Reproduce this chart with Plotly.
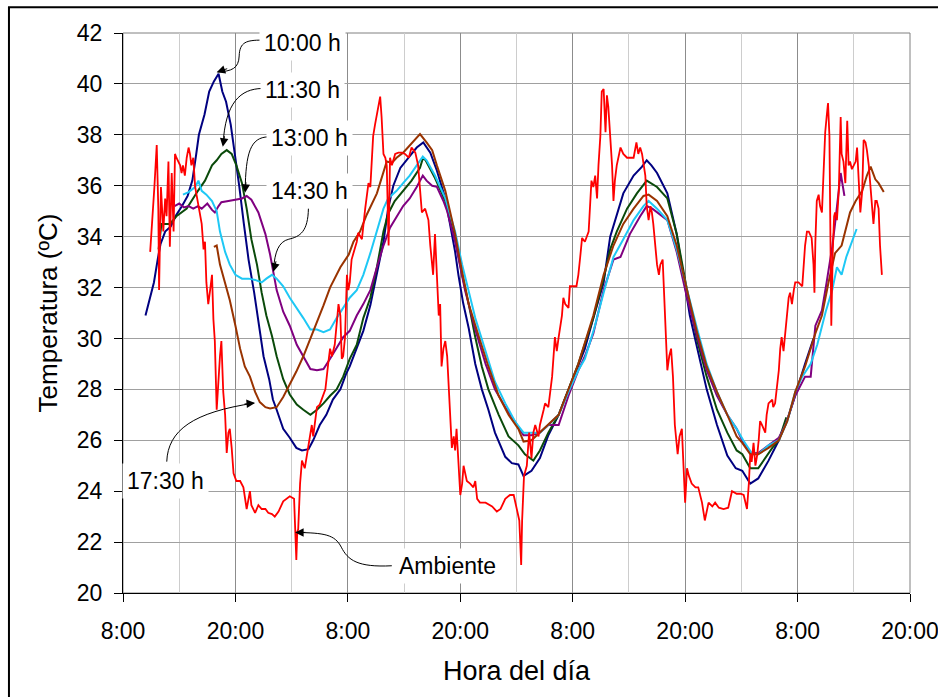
import plotly.graph_objects as go

# ---------------- data (time in hours since 8:00 of day 1) ----------------
x_tickvals = [0, 12, 24, 36, 48, 60, 72, 84]
x_ticktext = ["8:00", "20:00", "8:00", "20:00", "8:00", "20:00", "8:00", "20:00"]
x_minor = [6, 18, 30, 42, 54, 66, 78]

blue_t = [2.4, 2.8, 3.3, 3.7, 4.0, 4.5, 5.1, 5.6, 6.3, 6.9, 7.4, 7.8, 8.1, 8.7, 9.2, 9.7, 10.2, 10.6, 11.0,
          11.5, 11.9, 12.4, 12.9, 13.4, 14.0, 14.5, 15.0, 15.6, 16.0, 16.4, 17.1, 17.8, 18.5, 19.1, 19.8,
          20.3, 21.0, 21.7, 22.4, 23.2, 23.8, 24.2, 24.9, 25.65, 26.4, 27.1, 27.8, 28.3, 28.85, 29.6, 30.3,
          30.8, 31.35, 32.05, 32.8, 33.5, 34.4, 34.9, 35.45, 35.8, 36.3, 36.9, 37.6, 38.3, 39.0, 39.7, 40.8,
          41.5, 42.2, 42.75, 43.6, 44.5, 45.4, 46.5, 47.55, 48.6, 49.3, 50.2, 51.3, 52.0, 52.7, 53.4, 54.5,
          55.4, 55.9, 56.4, 57.0, 58.1, 59.1, 59.8, 60.5, 61.3, 62.3, 63.4, 64.5, 65.4, 66.1, 66.95, 67.8,
          68.9, 70.0, 71.0, 71.9, 72.8, 73.7]
blue_v = [30.9, 31.5, 32.2, 33.1, 33.7, 34.2, 34.4, 34.8, 35.2, 35.6, 36.2, 37.2, 38.0, 38.8, 39.7, 40.1, 40.4, 39.7, 39.3,
          38.4, 37.4, 36.0, 34.5, 33.1, 31.8, 30.5, 29.3, 28.4, 27.6, 27.2, 26.45, 26.1, 25.7, 25.6, 25.65,
          26.0, 26.6, 27.0, 27.6, 28.0, 28.6, 28.9, 29.6, 30.3, 31.3, 32.5, 33.8, 35.1, 36.0, 36.7, 37.0,
          37.25, 37.5, 37.7, 37.3, 36.6, 35.5, 34.5, 33.4, 32.5, 31.4, 30.4, 29.0, 28.0, 27.2, 26.3, 25.35,
          25.1, 25.05, 24.6, 24.8, 25.3, 26.2, 27.0, 28.0, 29.0, 29.6, 30.8, 32.2, 34.0, 34.9, 35.7, 36.4,
          36.75, 37.0, 36.8, 36.5, 35.7, 34.1, 32.5, 30.9, 29.6, 28.0, 26.6, 25.4, 24.9, 24.8, 24.3, 24.5,
          25.2, 26.0, 26.9, 28.0, 29.0, 30.0]

green_t = [3.8, 4.1, 5.0, 5.7, 6.8, 7.3, 8.0, 8.75, 9.5, 10.0, 10.5, 11.07, 11.6, 12.1, 12.7, 13.2, 13.7, 14.3,
           14.8, 15.3, 15.9, 16.4, 17.1, 17.8, 18.55, 19.25, 20.0, 20.7, 21.4, 22.1, 22.8, 23.5, 24.2, 24.95,
           25.65, 26.4, 27.1, 27.8, 28.3, 29.0, 29.9, 30.8, 31.7, 32.0, 32.3, 33.3, 34.4, 35.45, 36.2, 36.9,
           37.6, 38.3, 39.0, 40.1, 41.15, 42.2, 42.9, 43.8, 44.5, 45.4, 46.5, 47.55, 48.6, 50.2, 51.3, 52.0,
           52.7, 53.8, 54.85, 55.9, 57.0, 58.1, 59.1, 60.2, 61.3, 62.3, 63.4, 64.5, 65.5, 66.1, 66.95, 67.8,
           68.55, 69.3, 70.0, 70.8]
green_v = [33.5, 34.5, 34.5, 34.8, 35.1, 35.4, 35.8, 36.2, 36.8, 37.0, 37.25, 37.4, 37.25, 36.8, 36.1, 35.1, 33.9, 32.9,
           31.8, 30.9, 30.1, 29.3, 28.4, 27.8, 27.4, 27.2, 27.0, 27.2, 27.45, 27.75, 28.0, 28.5, 29.2, 29.75,
           30.8, 31.6, 32.8, 34.2, 34.9, 35.4, 35.8, 36.2, 36.7, 37.07, 37.0, 36.3, 35.4, 33.9, 32.5, 31.35,
           30.05, 28.9, 28.0, 27.0, 26.15, 25.8, 25.45, 25.2, 25.6, 26.3, 27.0, 28.0, 29.0, 30.8, 32.35, 33.5,
           34.2, 35.1, 35.7, 36.2, 35.95, 35.5, 34.1, 31.9, 29.9, 28.5, 27.2, 26.3, 25.6, 25.45, 24.9, 24.9,
           25.3, 25.7, 26.0, 26.9]

purple_t = [5.5, 6.0, 6.5, 7.0, 7.5, 8.0, 8.4, 9.0, 9.5, 9.8, 10.2, 10.5, 11.25, 12.0, 12.7, 13.2, 13.7, 14.45,
            15.2, 15.7, 16.4, 17.1, 17.8, 18.55, 19.25, 20.0, 20.7, 21.4, 22.1, 22.8, 23.5, 24.2, 24.95, 25.65,
            26.4, 27.1, 27.8, 28.5, 29.2, 29.9, 30.6, 31.35, 32.0, 32.4, 33.0, 33.5, 34.2, 34.6, 35.45, 36.5,
            37.6, 38.7, 39.7, 40.8, 41.9, 42.75, 43.6, 44.5, 45.4, 46.5, 47.55, 48.6, 49.3, 50.2, 51.3, 52.35,
            53.1, 54.1, 55.2, 55.9, 56.5, 57.2, 58.1, 59.1, 60.2, 61.3, 62.3, 63.4, 64.5, 65.5, 66.2, 66.95,
            67.8, 68.9, 70.0, 70.7, 71.75, 72.8, 73.4, 73.9, 74.6, 75.1, 75.7, 76.0, 76.6, 77.0]
purple_v = [35.2, 35.3, 35.15, 35.2, 35.1, 35.2, 35.1, 35.3, 35.05, 34.95, 35.2, 35.35, 35.4, 35.45, 35.5, 35.6, 35.45, 34.95,
            34.1, 33.3, 31.9, 31.05, 30.5, 29.75, 29.3, 28.8, 28.75, 28.8, 29.2, 29.6, 30.05, 30.3, 30.9, 31.35,
            31.9, 32.8, 33.65, 34.35, 34.8, 35.2, 35.5, 35.95, 36.4, 36.2, 36.0, 35.96, 35.4, 35.0, 33.8, 31.9,
            30.35, 29.0, 28.0, 27.3, 26.7, 26.2, 26.2, 26.3, 26.6, 26.6, 27.75, 28.75, 29.3, 30.2, 31.9, 33.1,
            33.2, 34.1, 34.8, 35.2, 35.1, 34.9, 34.65, 33.4, 31.6, 30.05, 28.75, 27.75, 27.0, 26.45, 25.9, 25.5,
            25.5, 25.8, 26.1, 26.6, 27.75, 28.5, 28.5, 30.5, 31.1, 32.2, 33.6, 34.5, 36.5, 35.6]

cyan_t = [6.4, 7.0, 7.7, 8.05, 8.4, 8.9, 9.5, 10.0, 10.35, 10.9, 11.4, 12.0, 12.7, 13.4, 14.1, 14.8, 15.3, 15.9,
          16.4, 17.1, 17.8, 18.55, 19.25, 20.0, 20.7, 21.4, 22.1, 22.8, 23.5, 24.2, 24.95, 25.65, 26.4, 27.1,
          27.8, 28.3, 29.2, 29.9, 30.6, 31.35, 32.0, 32.4, 33.3, 34.4, 35.45, 36.2, 36.9, 37.6, 38.7, 39.7,
          40.8, 41.9, 42.75, 43.6, 44.5, 45.4, 46.5, 47.55, 48.6, 49.3, 50.3, 51.3, 52.35, 53.4, 54.5, 55.55,
          56.1, 57.0, 58.1, 59.1, 60.2, 61.3, 62.3, 63.4, 64.5, 65.5, 66.2, 67.1, 67.8, 68.9, 70.0, 70.9,
          71.75, 72.5, 73.4, 74.1, 75.0, 75.7, 76.2, 76.7, 77.2, 77.8, 78.3]
cyan_v = [35.65, 35.75, 35.95, 36.2, 35.8, 35.65, 35.4, 35.0, 34.2, 33.4, 32.9, 32.5, 32.35, 32.35, 32.3, 32.2, 32.35, 32.5,
          32.35, 32.05, 31.6, 31.2, 30.8, 30.35, 30.35, 30.25, 30.35, 30.8, 31.2, 31.6, 31.9, 32.5, 33.35, 34.2,
          35.1, 35.5, 35.8, 36.1, 36.4, 36.8, 37.15, 37.0, 36.4, 35.5, 34.2, 32.9, 31.8, 30.8, 29.5, 28.3,
          27.45, 26.7, 26.3, 26.3, 26.3, 26.6, 27.0, 27.9, 28.75, 29.2, 30.4, 31.8, 33.2, 33.9, 34.65, 35.2,
          35.4, 35.1, 34.65, 33.5, 31.9, 30.35, 29.0, 27.9, 27.0, 26.45, 26.0, 25.5, 25.45, 25.8, 26.0, 26.75,
          27.9, 28.5, 29.0, 29.75, 31.05, 31.9, 32.8, 32.5, 33.2, 33.8, 34.3]

brown_t = [9.7, 10.0, 10.35, 10.9, 11.4, 12.0, 12.5, 13.0, 13.55, 14.1, 14.6, 15.2, 15.7, 16.4, 17.1, 17.8, 18.5,
           19.25, 20.0, 20.7, 21.4, 22.1, 23.2, 24.1, 24.6, 25.3, 26.0, 27.1, 27.8, 28.15, 28.7, 29.2, 29.9,
           30.6, 31.35, 31.7, 32.4, 33.0, 33.5, 34.4, 34.9, 35.45, 36.2, 36.9, 38.0, 39.0, 40.1, 41.15, 42.2,
           42.75, 43.6, 44.5, 45.4, 46.5, 47.55, 48.6, 50.2, 51.3, 52.35, 53.4, 54.5, 55.55, 56.1, 57.0, 58.1,
           59.1, 60.2, 61.3, 62.3, 63.4, 64.5, 65.5, 66.1, 66.95, 67.8, 68.9, 70.0, 70.9, 71.75, 72.8, 73.9,
           74.6, 75.3, 76.0, 76.7, 77.1, 77.6, 78.2, 78.9, 79.4, 79.8, 80.3, 80.65, 81.2]
brown_v = [33.6, 33.65, 32.9, 32.2, 31.5, 30.5, 29.6, 28.9, 28.5, 27.9, 27.5, 27.3, 27.25, 27.3, 27.7, 28.2, 28.7,
           29.3, 30.0, 30.6, 31.3, 32.0, 32.8, 33.3, 33.8, 34.2, 34.85, 35.7, 36.5, 36.95, 36.9, 37.1, 37.3,
           37.6, 37.9, 38.03, 37.7, 37.4, 36.8, 35.8, 35.0, 34.1, 32.6, 31.35, 30.05, 28.9, 27.75, 27.0, 26.45,
           25.95, 26.0, 26.3, 26.6, 27.0, 28.0, 29.0, 30.9, 32.5, 33.65, 34.5, 35.1, 35.6, 35.65, 35.4, 34.8,
           33.65, 31.9, 30.2, 28.9, 27.9, 27.0, 26.15, 25.9, 25.45, 25.45, 25.7, 26.0, 26.75, 27.9, 28.9, 30.2,
           30.9, 32.2, 33.35, 33.65, 34.2, 34.95, 35.4, 35.8, 36.4, 36.75, 36.25, 36.1, 35.75]

red_t = [2.9, 3.05, 3.35, 3.6, 3.77, 3.85, 4.05, 4.3, 4.5, 4.65, 4.85, 5.0, 5.2, 5.4, 5.55, 5.7, 6.1, 6.25, 6.4,
         6.6, 6.8, 7.0, 7.15, 7.3, 7.5, 7.7, 7.85, 8.2, 8.4, 8.6, 8.75, 8.9, 9.1, 9.3, 9.5, 9.65, 9.8, 10.0,
         10.2, 10.35, 10.5, 10.7, 10.9, 11.07, 11.25, 11.4, 11.6, 11.8, 12.1, 12.5, 12.85, 13.2, 13.55, 13.7,
         14.1, 14.45, 14.8, 15.2, 15.5, 15.9, 16.2, 16.6, 17.1, 17.8, 18.26, 18.4, 18.5, 18.6, 18.7, 18.9,
         19.1, 19.4, 19.8, 20.15, 20.3, 20.7, 21.0, 21.2, 21.6, 21.9, 22.1, 22.3, 22.6, 23.0, 23.2, 23.35,
         23.5, 23.7, 23.9, 24.05, 24.2, 24.4, 24.6, 24.95, 25.1, 25.5, 25.85, 26.0, 26.2, 26.4, 26.55, 26.7,
         26.9, 27.1, 27.25, 27.45, 27.6, 27.8, 28.0, 28.15, 28.35, 28.5, 28.7, 29.05, 29.4, 29.75, 30.1,
         30.5, 30.8, 31.2, 31.5, 31.9, 32.25, 32.6, 32.8, 32.96, 33.1, 33.3, 33.5, 33.7, 33.85, 34.0, 34.2,
         34.4, 34.6, 34.7, 34.9, 35.1, 35.3, 35.45, 35.6, 35.8, 36.0, 36.2, 36.35, 36.7, 37.05, 37.4, 37.6,
         37.8, 38.1, 38.7, 39.4, 39.9, 40.3, 40.8, 41.3, 41.7, 42.0, 42.3, 42.5, 42.6, 42.8, 43.1, 43.35,
         43.6, 43.8, 44.0, 44.35, 44.5, 44.9, 45.05, 45.4, 45.6, 45.8, 46.1, 46.3, 46.5, 46.85, 47.0, 47.2,
         47.55, 47.7, 48.4, 48.6, 48.8, 49.0, 49.3, 49.7, 50.0, 50.2, 50.4, 50.6, 50.75, 50.95, 51.1, 51.3,
         51.5, 51.65, 51.8, 52.0, 52.2, 52.35, 52.5, 52.7, 53.1, 53.4, 53.8, 54.5, 54.8, 55.0, 55.2, 55.4,
         55.55, 55.75, 55.9, 56.1, 56.3, 56.45, 56.6, 56.8, 57.0, 57.2, 57.35, 57.6, 57.8, 58.0, 58.1, 58.3,
         58.5, 58.7, 58.9, 59.2, 59.4, 59.65, 59.8, 60.0, 60.2, 60.4, 60.7, 61.1, 61.4, 61.8, 62.1, 62.5,
         62.9, 63.2, 63.6, 64.1, 64.6, 65.0, 65.5, 65.9, 66.25, 66.4, 66.6, 66.8, 66.95, 67.1, 67.3, 67.5,
         67.7, 67.85, 68.0, 68.2, 68.4, 68.55, 68.7, 68.9, 69.3, 69.4, 69.6, 69.8, 70.0, 70.15, 70.3, 70.5,
         70.7, 70.9, 71.05, 71.2, 71.4, 71.6, 71.75, 72.1, 72.5, 72.8, 73.0, 73.2, 73.5, 73.7, 73.8, 73.9,
         74.05, 74.25, 74.4, 74.6, 74.8, 74.95, 75.1, 75.25, 75.4, 75.5, 75.6, 75.75, 75.9, 76.0, 76.2, 76.4,
         76.5, 76.6, 76.7, 76.9, 77.1, 77.3, 77.45, 77.6, 77.8, 78.0, 78.2, 78.35, 78.5, 78.7, 78.9, 79.05,
         79.25, 79.4, 79.6, 79.75, 79.9, 80.1, 80.3, 80.45, 80.65, 80.8, 81.0]
red_v = [33.4, 34.2, 35.95, 37.6, 35.1, 31.9, 35.95, 34.2, 35.5, 34.8, 36.95, 33.6, 36.5, 34.2, 37.25, 37.1, 36.8, 36.5, 36.8,
         36.4, 37.1, 37.5, 37.25, 36.8, 37.1, 35.95, 35.65, 34.8, 34.5, 33.5, 33.8, 32.2, 31.35, 31.9, 32.5, 30.75, 29.9, 27.2,
         28.75, 29.3, 29.9, 27.9, 27.0, 25.5, 26.3, 26.45, 25.7, 24.7, 24.4, 24.4, 24.15, 23.3, 24.0, 23.45,
         23.15, 23.45, 23.3, 23.3, 23.15, 23.1, 23.0, 23.2, 23.6, 23.8, 23.7, 22.4, 21.3, 22.4, 22.5, 24.3,
         25.2, 24.9, 25.9, 26.6, 26.15, 27.3, 27.4, 27.6, 28.0, 29.0, 29.6, 29.3, 29.75, 31.35, 30.9, 29.2,
         29.3, 30.05, 32.5, 31.9, 32.2, 33.1, 33.35, 33.8, 34.15, 33.9, 35.1, 35.65, 36.1, 35.95, 37.25, 37.95,
         38.4, 38.8, 39.1, 39.5, 38.7, 37.25, 37.1, 36.8, 33.65, 37.1, 36.8, 37.25, 37.3, 37.3, 37.25,
         37.1, 37.5, 37.3, 36.8, 34.95, 35.1, 34.65, 33.65, 32.9, 32.5, 34.1, 32.5, 30.9, 31.35, 28.9, 29.6,
         29.9, 29.3, 28.5, 27.2, 25.7, 26.15, 25.6, 26.45, 25.0, 23.85, 24.3, 25.0, 24.4, 24.3, 24.15, 24.4,
         23.7, 23.55, 23.55, 23.4, 23.2, 23.3, 23.7, 23.85, 23.85, 23.4, 22.85, 21.1, 22.85, 24.6, 25.0, 26.3,
         25.3, 26.3, 26.6, 26.15, 26.6, 27.2, 27.45, 27.3, 28.0, 28.5, 30.05, 29.5, 30.05, 30.9, 31.6, 31.35,
         31.2, 32.05, 32.05, 32.5, 33.2, 33.95, 33.8, 34.2, 36.2, 35.95, 36.4, 35.5, 36.8, 37.95, 39.7, 39.8,
         38.1, 39.55, 39.1, 37.95, 36.8, 35.4, 36.2, 36.8, 37.5, 37.25, 37.1, 37.1, 37.7, 37.25, 37.5, 37.25,
         36.8, 36.4, 35.2, 34.65, 35.2, 34.95, 34.5, 33.65, 32.9, 32.5, 32.9, 33.1, 31.35, 29.75, 28.75, 29.3,
         29.6, 28.5, 26.6, 25.45, 26.15, 26.45, 25.3, 23.55, 24.9, 24.6, 24.3, 24.15, 24.15, 23.55, 22.85, 23.55,
         23.4, 23.55, 23.35, 23.3, 23.35, 24.0, 23.9, 23.9, 23.85, 23.55, 23.3, 24.3, 25.45, 25.15, 25.9, 25.0,
         25.45, 26.0, 26.75, 26.6, 26.45, 26.3, 27.0, 27.45, 27.6, 27.3, 27.45, 28.0, 28.75, 29.6, 30.05, 29.5,
         30.2, 31.05, 31.6, 31.8, 31.35, 31.9, 32.2, 32.2, 32.05, 33.65, 34.2, 34.2, 33.95, 32.9, 31.8, 33.8,
         35.4, 35.65, 35.2, 34.95, 37.25, 38.1, 38.7, 39.25, 37.95, 33.65, 30.5, 33.35, 34.8, 34.95, 34.65, 35.8,
         37.95, 38.7, 37.25, 36.95, 36.1, 38.55, 36.8, 36.95, 36.65, 36.8, 36.95, 37.5, 36.25, 34.95, 35.8, 37.8,
         37.7, 37.4, 36.8, 36.1, 35.2, 34.5, 35.4, 35.4, 35.1, 33.65, 32.5]

series = [
    ("10:00 h", blue_t, blue_v, "#000080", 2.0),
    ("11:30 h", green_t, green_v, "#0a4a0a", 2.0),
    ("13:00 h", purple_t, purple_v, "#800080", 2.0),
    ("14:30 h", cyan_t, cyan_v, "#1ec8f5", 2.0),
    ("17:30 h", brown_t, brown_v, "#993300", 2.0),
    ("Ambiente", red_t, red_v, "#ff0000", 1.8),
]

fig = go.Figure()
for name, t, v, col, w in series:
    fig.add_trace(go.Scatter(x=t, y=v, mode="lines", name=name,
                             line=dict(color=col, width=w), hoverinfo="skip"))

FONT = "Liberation Sans, Arial, sans-serif"

# label boxes (text, x, y)
labels = [
    ("10:00 h", 19.17, 41.62),
    ("11:30 h", 19.17, 39.75),
    ("13:00 h", 19.86, 37.87),
    ("14:30 h", 19.86, 35.79),
    ("17:30 h", 4.54, 24.41),
    ("Ambiente", 34.6, 21.07),
]
# curved connectors (SVG paths in data units) and arrow tips (x, y, ax, ay)
connectors = [
    "M 14.81,41.72 C 13.2,41.72 12.45,41.65 12.4,41.1 C 12.35,40.6 11.6,40.5 10.1,40.47",
    "M 14.81,39.82 C 12.6,39.8 10.9,39.3 10.68,37.6",
    "M 15.51,37.92 C 13.6,37.9 13.1,37.3 13.04,35.8",
    "M 19.79,35.11 C 19.75,34.2 18.9,34.0 17.7,33.9 C 16.6,33.8 16.2,33.4 16.06,32.7",
    "M 4.67,25.16 C 4.8,26.4 7.5,27.1 14.0,27.46",
    "M 28.69,21.07 C 25.0,21.0 24.0,21.3 23.3,21.8 C 22.6,22.3 21.5,22.36 18.45,22.38",
]
tips = [
    (10.0, 40.46, 12, -4),
    (10.65, 37.53, 2, -12),
    (13.03, 35.72, 1, -12),
    (16.05, 32.62, 3, -12),
    (14.09, 27.46, -12, 1),
    (18.37, 22.38, 12, 0),
]

shapes = []
for p in connectors:
    shapes.append(dict(type="path", xref="x", yref="y", path=p,
                       line=dict(color="#000000", width=1), layer="above"))
# plot area frame (grey) and outer picture frame (black)
shapes.append(dict(type="rect", xref="paper", yref="paper", x0=0, x1=1, y0=0, y1=1,
                   line=dict(color="#808080", width=1), layer="below"))
shapes.append(dict(type="rect", xref="paper", yref="paper", x0=-0.1449, x1=1.08, y0=-0.25, y1=1.0459,
                   line=dict(color="#000000", width=2), layer="above"))

annotations = []
for txt, x, y in labels:
    annotations.append(dict(x=x, y=y, xref="x", yref="y", text=txt, showarrow=False,
                            font=dict(family=FONT, size=23, color="#000000"),
                            bgcolor="#ffffff", borderpad=4))
for x, y, ax, ay in tips:
    annotations.append(dict(x=x, y=y, xref="x", yref="y", text="", showarrow=True,
                            ax=ax, ay=ay, arrowhead=2, arrowsize=1.7, arrowwidth=1,
                            arrowcolor="#000000"))

fig.update_layout(
    width=938, height=697,
    margin=dict(l=123, r=28, t=33, b=104, autoexpand=False),
    paper_bgcolor="#ffffff", plot_bgcolor="#ffffff",
    showlegend=False,
    font=dict(family=FONT, color="#000000"),
    shapes=shapes, annotations=annotations,
)
fig.update_xaxes(
    range=[0, 84], tickmode="array", tickvals=x_tickvals, ticktext=x_ticktext,
    ticks="outside", ticklen=8, tickcolor="#000000", tickwidth=1,
    ticklabelstandoff=9, ticklabeloverflow="allow", automargin=False,
    showline=True, linecolor="#000000", linewidth=1,
    showgrid=True, gridcolor="#8c8c8c", gridwidth=1, zeroline=False,
    tickfont=dict(family=FONT, size=23, color="#000000"),
    minor=dict(tickvals=x_minor, showgrid=True, gridcolor="#cdcdcd", gridwidth=1, ticks=""),
    title=dict(text="Hora del día", font=dict(family=FONT, size=27, color="#000000"), standoff=18),
)
fig.update_yaxes(
    range=[20, 42], tickmode="linear", tick0=20, dtick=2,
    ticks="outside", ticklen=8, tickcolor="#000000", tickwidth=1,
    ticklabelstandoff=7, automargin=False,
    showline=True, linecolor="#000000", linewidth=1,
    showgrid=True, gridcolor="#a0a0a0", gridwidth=1, zeroline=False,
    tickfont=dict(family=FONT, size=23, color="#000000"),
    title=dict(text="Temperatura (ºC)", font=dict(family=FONT, size=26, color="#000000"), standoff=11),
)

fig.write_html("out.html")
